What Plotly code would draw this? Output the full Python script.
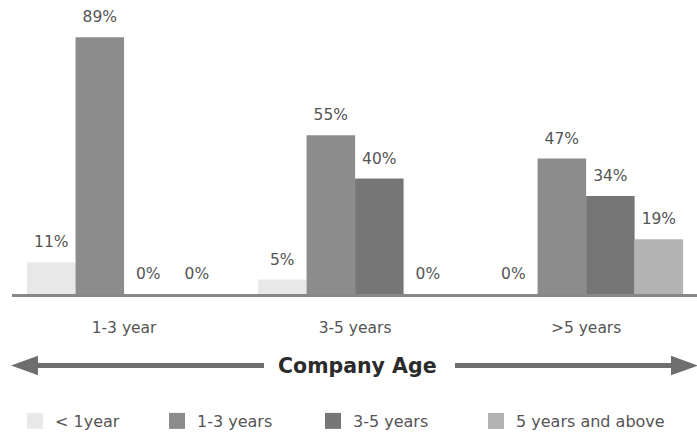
import plotly.graph_objects as go

categories = ["1-3 year", "3-5 years", ">5 years"]
series_names = ["< 1year", "1-3 years", "3-5 years", "5 years and above"]
lt1_year = [11, 5, 0]
y1_3 = [89, 55, 47]
y3_5 = [0, 40, 34]
y5_plus = [0, 0, 19]
series_values = [lt1_year, y1_3, y3_5, y5_plus]
colors = ["#e8e8e8", "#8c8c8c", "#767676", "#b3b3b3"]

W, H = 697, 438
L, T = 12, 0
BASE = 300
PX_PER_PCT = 2.944
B = H - BASE
PW, PH = W - L, BASE - T

def px(xs):
    return (xs - L) / PW

def py(ys):
    return (BASE - ys) / PH

font_family = "'DejaVu Sans', sans-serif"

fig = go.Figure()
for name, vals, col in zip(series_names, series_values, colors):
    fig.add_trace(go.Bar(
        x=categories, y=vals, name=name, offsetgroup=name,
        marker=dict(color=col, line=dict(width=0)),
        showlegend=False, hoverinfo="skip",
    ))
for name, vals in zip(series_names, series_values):
    fig.add_trace(go.Scatter(
        x=categories, y=vals, offsetgroup=name, mode="markers+text",
        marker=dict(size=16, opacity=0, color="white"),
        text=[f"{v}%" for v in vals], textposition="top center",
        textfont=dict(size=15.5, color="#555555", family=font_family),
        showlegend=False, hoverinfo="skip", cliponaxis=False,
    ))

# legend entries, one legend per item so each can sit where the reference shows it
legend_ids = ["legend", "legend2", "legend3", "legend4"]
legend_left = [15, 157, 313, 476]
for name, col, lid in zip(series_names, colors, legend_ids):
    fig.add_trace(go.Scatter(
        x=[None], y=[None], name=name, mode="markers", legend=lid,
        marker=dict(symbol="square", size=20, color=col),
        xaxis="x2", yaxis="y2", showlegend=True,
    ))

legend_style = dict(orientation="h", xanchor="left", y=py(430), yanchor="middle",
                    font=dict(size=16, color="#555555", family=font_family),
                    itemsizing="trace", bgcolor="rgba(0,0,0,0)")
legends = {lid: dict(legend_style, x=px(xl)) for lid, xl in zip(legend_ids, legend_left)}

arrow_y = 373
line_col = "#6e6e6e"
shapes = [
    dict(type="line", xref="paper", yref="paper", x0=px(34), x1=px(264), y0=py(arrow_y), y1=py(arrow_y),
         line=dict(color=line_col, width=5)),
    dict(type="path", xref="paper", yref="paper",
         path=f"M {px(11)} {py(arrow_y)} L {px(38)} {py(arrow_y-10)} L {px(38)} {py(arrow_y+10)} Z",
         fillcolor=line_col, line=dict(width=0)),
    dict(type="line", xref="paper", yref="paper", x0=px(455), x1=px(675), y0=py(arrow_y), y1=py(arrow_y),
         line=dict(color=line_col, width=5)),
    dict(type="path", xref="paper", yref="paper",
         path=f"M {px(698)} {py(arrow_y)} L {px(671)} {py(arrow_y-10)} L {px(671)} {py(arrow_y+10)} Z",
         fillcolor=line_col, line=dict(width=0)),
]

fig.update_layout(
    width=W, height=H,
    margin=dict(l=L, r=0, t=T, b=B),
    paper_bgcolor="white", plot_bgcolor="white",
    barmode="group", bargap=0.16, bargroupgap=0,
    scattermode="group", scattergap=0.16,
    font=dict(family=font_family, color="#555555", size=15.5),
    showlegend=True,
    shapes=shapes,
    annotations=[dict(text="<b>Company Age</b>", xref="paper", yref="paper", x=px(357), y=py(arrow_y),
                      showarrow=False, font=dict(size=20.5, color="#2b2b2b", family=font_family),
                      xanchor="center", yanchor="middle")],
    xaxis=dict(range=[-0.485, 2.48], showline=True, linecolor="#888888", linewidth=3,
               showgrid=False, zeroline=False, ticks="", ticklabelstandoff=17,
               tickfont=dict(size=15.5, color="#555555", family=font_family), fixedrange=True),
    yaxis=dict(range=[0, BASE / PX_PER_PCT], visible=False, showgrid=False, zeroline=False, fixedrange=True),
    xaxis2=dict(overlaying="x", visible=False, range=[0, 1]),
    yaxis2=dict(overlaying="y", visible=False, range=[0, 1]),
    **legends,
)

fig.write_html("out.html", config={"displayModeBar": False},
               post_script="document.body.style.margin='0';document.body.style.overflow='hidden';")
